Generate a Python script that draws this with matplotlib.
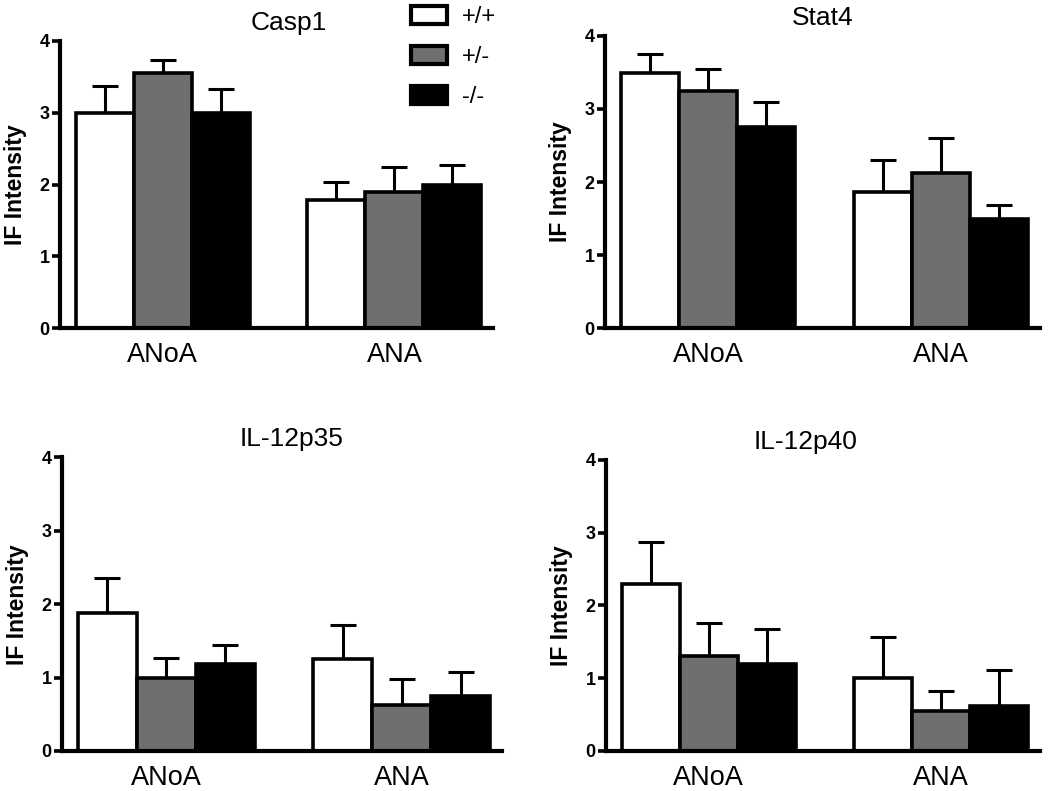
import numpy as np
import matplotlib
matplotlib.use("Agg")
import matplotlib.pyplot as plt
from matplotlib.patches import Patch

plt.rcParams['font.family'] = ['Liberation Sans', 'DejaVu Sans']

# Dados
grupos = ["ANoA", "ANA"]
genotipos = ["+/+", "+/-", "-/-"]
titulos = ["Casp1", "Stat4", "IL-12p35", "IL-12p40"]

# médias por painel: [ANoA(+/+, +/-, -/-), ANA(+/+, +/-, -/-)]
casp1_media = [3.00, 3.56, 3.00, 1.78, 1.89, 2.00]
casp1_erro = [0.37, 0.18, 0.33, 0.26, 0.36, 0.27]

stat4_media = [3.49, 3.24, 2.75, 1.87, 2.12, 1.50]
stat4_erro = [0.27, 0.31, 0.35, 0.43, 0.48, 0.18]

p35_media = [1.88, 1.00, 1.19, 1.25, 0.63, 0.75]
p35_erro = [0.47, 0.26, 0.25, 0.46, 0.35, 0.32]

p40_media = [2.30, 1.30, 1.19, 1.00, 0.55, 0.62]
p40_erro = [0.57, 0.46, 0.48, 0.56, 0.27, 0.49]

medias = [casp1_media, stat4_media, p35_media, p40_media]
erros = [casp1_erro, stat4_erro, p35_erro, p40_erro]

cores = ["white", "#6f6f6f", "black"]

# posições dos eixos na figura (left, bottom, width, height)
posicoes = [
    [0.0571, 0.5853, 0.4124, 0.3629],
    [0.5762, 0.5853, 0.4143, 0.3692],
    [0.0590, 0.0506, 0.4190, 0.3713],
    [0.5771, 0.0506, 0.4133, 0.3679],
]
titulo_x = [0.529, 0.5, 0.523, 0.459]

fig = plt.figure(figsize=(10.5, 7.91), dpi=100)

x = np.array([0.5, 1.5, 2.5, 4.5, 5.5, 6.5])

for i in range(4):
    ax = fig.add_axes(posicoes[i])
    media = np.array(medias[i])
    erro = np.array(erros[i])
    cor_barras = cores * 2
    ax.errorbar(x, media, yerr=[np.zeros_like(erro), erro], fmt='none',
                ecolor='black', elinewidth=2.2, capsize=9.5, capthick=2.2, zorder=1)
    ax.bar(x, media, width=1.0, color=cor_barras, edgecolor='black',
           linewidth=2.6, zorder=2)

    ax.set_xlim(-0.27, 7.2)
    ax.set_ylim(0, 4)
    ax.set_yticks([0, 1, 2, 3, 4])
    ax.set_xticks([1.5, 5.5])
    ax.set_xticklabels(grupos, fontsize=19.5)
    ax.tick_params(axis='x', length=0, pad=10)
    ax.tick_params(axis='y', direction='out', length=6, width=2.6, pad=1.5,
                   labelsize=13)
    for lab in ax.get_yticklabels():
        lab.set_fontweight('bold')
    ax.spines['top'].set_visible(False)
    ax.spines['right'].set_visible(False)
    ax.spines['left'].set_linewidth(3)
    ax.spines['bottom'].set_linewidth(3)
    ax.set_ylabel("IF Intensity", fontsize=16.5, fontweight='bold', labelpad=9)
    ax.set_title(titulos[i], fontsize=19, x=titulo_x[i], pad=8)

    if i == 0:
        handles = [Patch(facecolor=c, edgecolor='black', linewidth=3) for c in cores]
        ax.legend(handles, genotipos, loc='upper left', bbox_to_anchor=(0.79, 1.155),
                  frameon=False, fontsize=17, handlelength=1.5, handleheight=0.8,
                  labelspacing=0.75, handletextpad=0.65, borderaxespad=0)

fig.savefig("out.png", dpi=100)
